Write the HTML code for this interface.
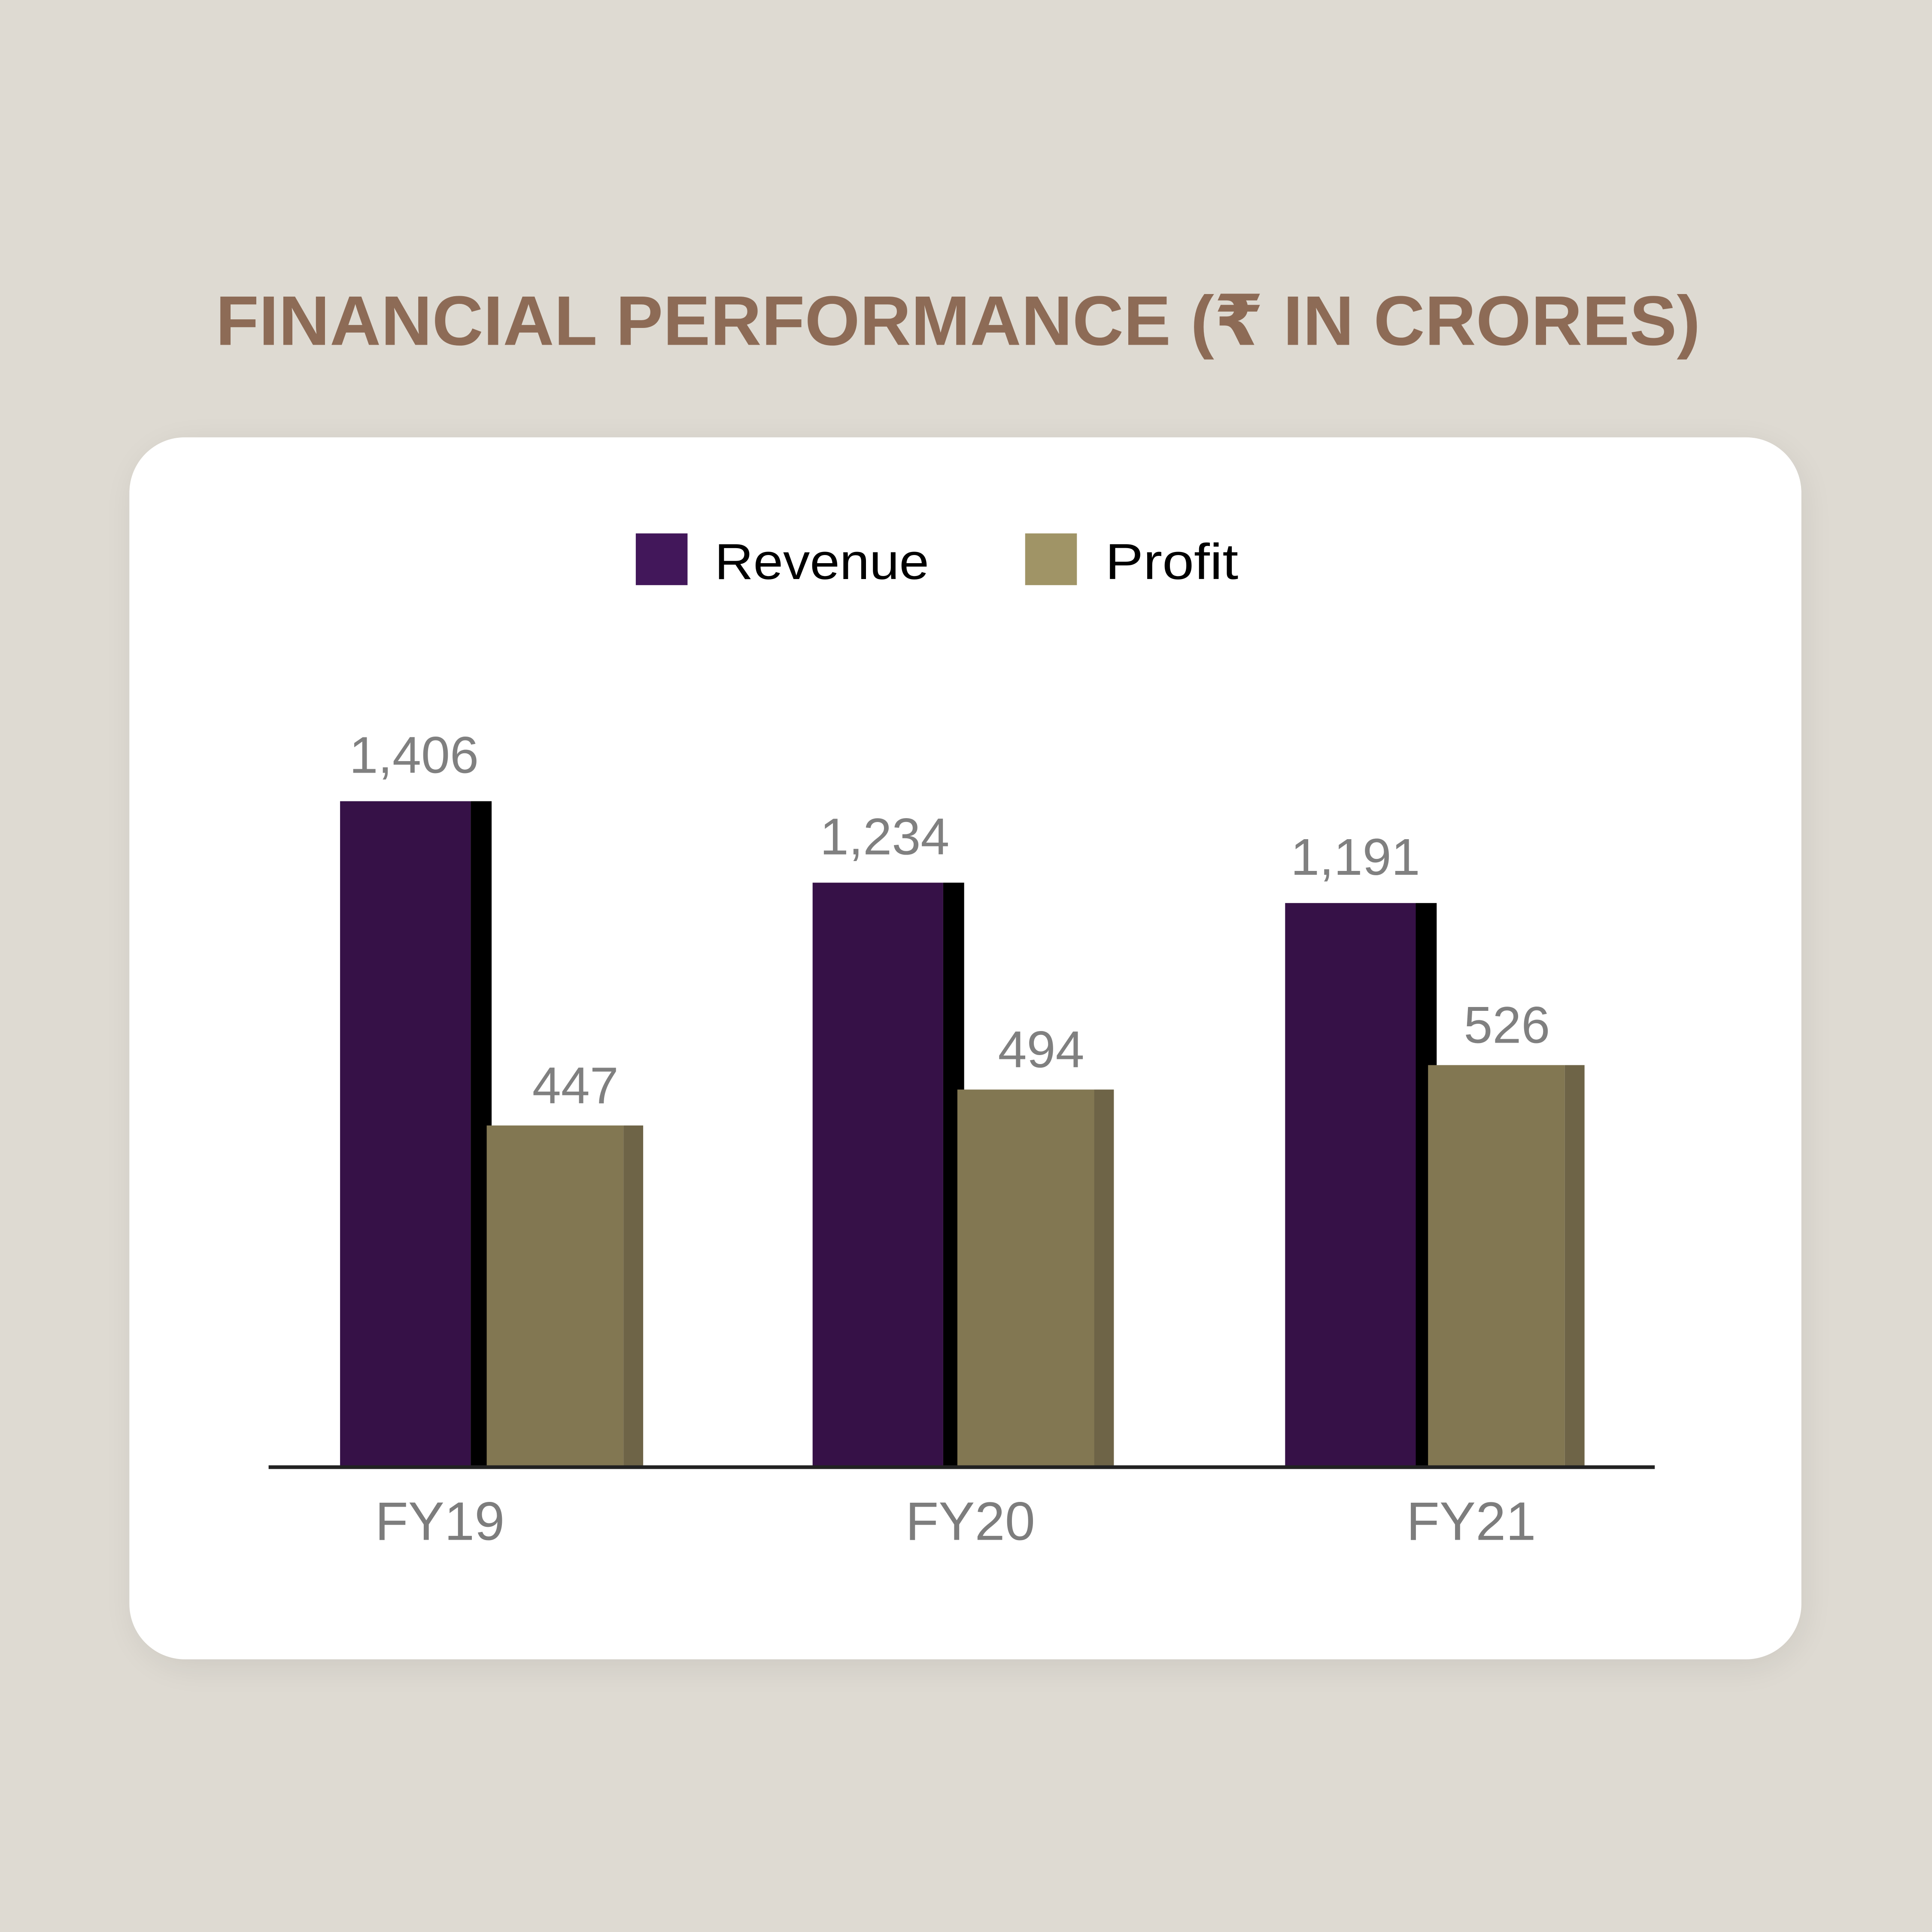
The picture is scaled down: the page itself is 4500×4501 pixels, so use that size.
<!DOCTYPE html>
<html><head><meta charset="utf-8"><style>
html,body{margin:0;padding:0;background:#dedad2;}
svg{display:block;}
</style></head><body>
<svg width="4500" height="4501" viewBox="0 0 1568 1568.35" preserveAspectRatio="none" xmlns="http://www.w3.org/2000/svg">
<defs><filter id="sh" x="-10%" y="-10%" width="120%" height="120%"><feGaussianBlur stdDeviation="14"/></filter></defs>
<rect x="0" y="0" width="1568" height="1569" fill="#dedad2"/>
<text x="175" y="280" font-family="'Liberation Sans','DejaVu Sans',sans-serif" font-weight="bold" font-size="57" fill="#8d6b56" textLength="1205" lengthAdjust="spacingAndGlyphs">FINANCIAL PERFORMANCE (₹ IN CRORES)</text>
<rect x="110" y="362" width="1352" height="990" rx="46" fill="#000" opacity="0.08" filter="url(#sh)"/>
<rect x="105" y="355" width="1357" height="992" rx="45" fill="#ffffff"/>
<g font-family="'Liberation Sans',sans-serif" font-size="41" fill="#000">
<rect x="516" y="433" width="42" height="42" fill="#42175a"/>
<text x="580" y="470" textLength="174" lengthAdjust="spacingAndGlyphs">Revenue</text>
<rect x="832" y="433" width="42" height="42" fill="#a09466"/>
<text x="897" y="470" textLength="108" lengthAdjust="spacingAndGlyphs">Profit</text>
</g>
<g id="bars"></g>
<line x1="218" y1="1191" x2="1343" y2="1191" stroke="#222" stroke-width="3"/>
</svg>
<script>
const categories = ["FY19", "FY20", "FY21"];
const revenue = [1406, 1234, 1191];
const profit = [447, 494, 526];
const revenueLabels = ["1,406", "1,234", "1,191"];
const profitLabels = ["447", "494", "526"];

const NS = "http://www.w3.org/2000/svg";
const g = document.getElementById("bars");
const baseY = 1191;
const revScale = v => v * 0.3845;
const proScale = v => v * 0.6205;
const groupX = i => 276 + i * 383.5;
const tickOffsets = [81, 128, 151];

function mk(tag, attrs) {
  const el = document.createElementNS(NS, tag);
  for (const k in attrs) el.setAttribute(k, attrs[k]);
  g.appendChild(el);
  return el;
}
categories.forEach((c, i) => {
  const x = groupX(i);
  const rh = revScale(revenue[i]);
  const ph = proScale(profit[i]);
  const po = 119 - i * 1.5;
  let e = mk("rect", {x: x, y: baseY - rh, width: 106, height: rh, fill: "#361147"});
  
  
  e = mk("rect", {x: x + 106, y: baseY - rh, width: 17, height: rh, fill: "#000"});
  
  
  e = mk("rect", {x: x + po, y: baseY - ph, width: 111, height: ph, fill: "#827752"});
  
  
  e = mk("rect", {x: x + po + 111, y: baseY - ph, width: 16, height: ph, fill: "#6e6447"});
  
  
  const font = "'Liberation Sans',sans-serif";
  e = mk("text", {x: x + 60 - i * 1.5, y: baseY - rh - 23, "text-anchor": "middle", "font-family": font, "font-size": "42", fill: "#808080"});
  e.textContent = revenueLabels[i];
  
  
  e = mk("text", {x: x + 191 - i * 5.5, y: baseY - ph - 18, "text-anchor": "middle", "font-family": font, "font-size": "42", fill: "#808080"});
  e.textContent = profitLabels[i];
  
  
  e = mk("text", {x: x + tickOffsets[i], y: 1250, "text-anchor": "middle", "font-family": font, "font-size": "44", fill: "#7d7d7d"});
  e.textContent = c;
  
  
});
</script>
</body></html>
